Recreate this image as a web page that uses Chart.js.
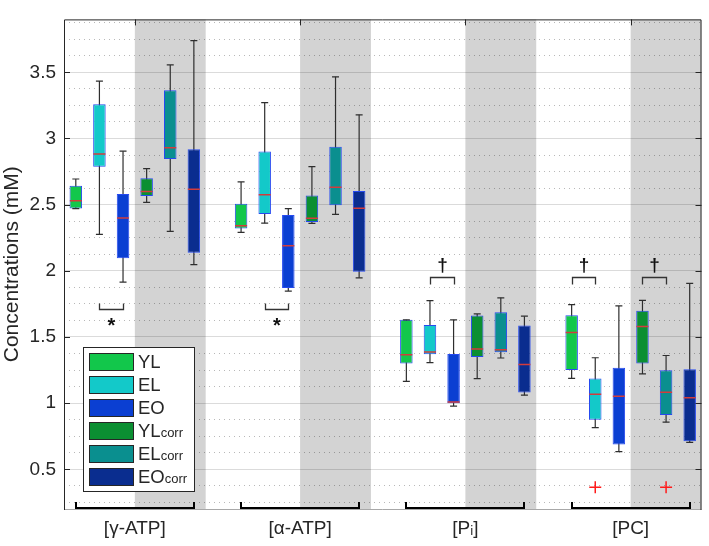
<!DOCTYPE html>
<html>
<head>
<meta charset="utf-8">
<script src="https://cdn.jsdelivr.net/npm/chart.js@4/dist/chart.umd.min.js"></script>
<style>
html,body{margin:0;padding:0;background:#fff;}
#wrap{width:709px;height:546px;position:relative;}
</style>
</head>
<body>
<div id="wrap"><canvas id="c" width="709" height="546"></canvas></div>
<script>
// ---------- data ----------
const groupLabels = ['[γ-ATP]', '[α-ATP]', '[Pᵢ]', '[PC]'];
const seriesNames = ['YL', 'EL', 'EO', 'YLcorr', 'ELcorr', 'EOcorr'];
const yTickValues = [0.5, 1, 1.5, 2, 2.5, 3, 3.5];
// rows = series (YL, EL, EO, YLcorr, ELcorr, EOcorr); columns = groups (γ-ATP, α-ATP, Pi, PC)
const whiskerLow = [
  [2.47, 2.29, 1.165, 1.187],
  [2.276, 2.36, 1.306, 0.815],
  [1.915, 1.847, 0.978, 0.634],
  [2.517, 2.358, 1.185, 1.221],
  [2.298, 2.426, 1.341, 0.856],
  [2.047, 1.947, 1.06, 0.703]
];
const quartile1 = [
  [2.47, 2.32, 1.30, 1.25],
  [2.787, 2.429, 1.37, 0.875],
  [2.095, 1.871, 1.0, 0.688],
  [2.565, 2.368, 1.348, 1.30],
  [2.845, 2.495, 1.385, 0.91],
  [2.137, 1.993, 1.08, 0.712]
];
const medians = [
  [2.53, 2.34, 1.365, 1.533],
  [2.882, 2.575, 1.387, 1.068],
  [2.40, 2.19, 1.009, 1.053],
  [2.60, 2.397, 1.409, 1.579],
  [2.93, 2.631, 1.404, 1.082],
  [2.616, 2.473, 1.292, 1.041]
];
const quartile3 = [
  [2.643, 2.507, 1.63, 1.664],
  [3.259, 2.901, 1.591, 1.187],
  [2.58, 2.422, 1.372, 1.268],
  [2.70, 2.57, 1.662, 1.699],
  [3.364, 2.938, 1.686, 1.248],
  [2.919, 2.604, 1.586, 1.257]
];
const whiskerHigh = [
  [2.694, 2.672, 1.63, 1.745],
  [3.434, 3.271, 1.774, 1.343],
  [2.904, 2.47, 1.63, 1.735],
  [2.772, 2.787, 1.674, 1.776],
  [3.556, 3.466, 1.796, 1.36],
  [3.739, 3.179, 1.657, 1.905]
];
// outliers per series: [groupIndex, value]
const outliers = [[], [[3, 0.364]], [], [], [[3, 0.364]], []];
// significance marks: [groupIndex, seriesA, seriesB, symbol]
const sigMarks = [
  [0, 1, 2, '*'],
  [1, 1, 2, '*'],
  [2, 1, 2, '†'],
  [3, 0, 1, '†'],
  [3, 3, 4, '†']
];

// ---------- styles ----------
const seriesColors = ['#12c74b', '#13c9c9', '#0b3fd2', '#0b8f32', '#0a8f8f', '#0a2d8f'];
const boxEdge = '#2649f0';
const whiskerColor = '#2e2e2e';
const medianColor = '#d23c3c';
const textColor = '#262626';
const FONT = "'Liberation Sans', Arial, Helvetica, sans-serif";
const stride = 7;              // slots per group (6 boxes + gap)
const pos = (g, s) => g * stride + s;
const yMin = 0.2, yMax = 3.9;

// ---------- datasets ----------
const datasets = [];
seriesNames.forEach((name, s) => {
  const xs = groupLabels.map((_, g) => pos(g, s));
  datasets.push({
    type: 'bar', label: name + ' whisker',
    data: xs.map((xv, g) => ({x: xv, y: [whiskerLow[s][g], whiskerHigh[s][g]]})),
    backgroundColor: whiskerColor, borderWidth: 0, barThickness: 1.2, inflateAmount: 0,
    grouped: false, order: 30, xAxisID: 'x', yAxisID: 'y'
  });
  datasets.push({
    type: 'bar', label: name,
    data: xs.map((xv, g) => ({x: xv, y: [quartile1[s][g], quartile3[s][g]]})),
    backgroundColor: seriesColors[s], borderColor: boxEdge, borderWidth: 1,
    borderSkipped: false, barThickness: 12.5, inflateAmount: 0,
    grouped: false, order: 20, xAxisID: 'x', yAxisID: 'y'
  });
  datasets.push({
    type: 'line', label: name + ' caps',
    data: xs.flatMap((xv, g) => [{x: xv, y: whiskerLow[s][g]}, {x: xv, y: whiskerHigh[s][g]}]),
    showLine: false, pointStyle: 'line', pointRadius: 3.5, pointBorderColor: whiskerColor,
    pointBorderWidth: 1.2, order: 10, xAxisID: 'x', yAxisID: 'y'
  });
  datasets.push({
    type: 'line', label: name + ' median',
    data: xs.map((xv, g) => ({x: xv, y: medians[s][g]})),
    showLine: false, pointStyle: 'line', pointRadius: 6, pointBorderColor: medianColor,
    pointBorderWidth: 1.5, order: 5, xAxisID: 'x', yAxisID: 'y'
  });
  if (outliers[s].length) {
    datasets.push({
      type: 'line', label: name + ' outliers',
      data: outliers[s].map(([g, v]) => ({x: pos(g, s), y: v})),
      showLine: false, pointStyle: 'cross', pointRadius: 6, pointBorderColor: '#ff1a1a',
      pointBorderWidth: 1.5, order: 4, xAxisID: 'x', yAxisID: 'y'
    });
  }
});

// ---------- decoration plugin ----------
const decor = {
  id: 'decor',
  beforeDraw(chart) {
    const {ctx, chartArea: a, scales: {x}} = chart;
    ctx.save();
    ctx.fillStyle = '#d3d3d3';
    groupLabels.forEach((_, g) => {
      const x0 = x.getPixelForValue(pos(g, 2.5));
      const x1 = x.getPixelForValue(pos(g, 5.5));
      ctx.fillRect(x0, a.top, x1 - x0, a.bottom - a.top);
    });
    ctx.restore();
  },
  afterDraw(chart) {
    const {ctx, chartArea: a, scales: {x, y}} = chart;
    ctx.save();
    // frame
    ctx.lineWidth = 1;
    ctx.strokeStyle = '#a8a8a8';
    ctx.beginPath();
    ctx.moveTo(a.left, a.bottom + 0.5); ctx.lineTo(a.right, a.bottom + 0.5);
    ctx.stroke();
    ctx.strokeStyle = textColor;
    ctx.beginPath();
    ctx.moveTo(a.left + 0.5, a.bottom + 1); ctx.lineTo(a.left + 0.5, a.top + 0.5);
    ctx.lineTo(a.right - 0.5, a.top + 0.5); ctx.lineTo(a.right - 0.5, a.bottom + 1);
    // inward ticks
    yTickValues.forEach(v => {
      const py = Math.round(y.getPixelForValue(v)) + 0.5;
      ctx.moveTo(a.left, py); ctx.lineTo(a.left + 6, py);
      ctx.moveTo(a.right, py); ctx.lineTo(a.right - 6, py);
    });
    groupLabels.forEach((_, g) => {
      const px = Math.round(x.getPixelForValue(pos(g, 2.5))) + 0.5;
      ctx.moveTo(px, a.top); ctx.lineTo(px, a.top + 6);
    });
    ctx.stroke();

    // group brackets at the bottom
    ctx.strokeStyle = '#000';
    ctx.lineWidth = 2;
    groupLabels.forEach((_, g) => {
      const xa = Math.round(x.getPixelForValue(pos(g, 0)));
      const xb = Math.round(x.getPixelForValue(pos(g, 5)));
      const yb = a.bottom - 1;
      ctx.beginPath();
      ctx.moveTo(xa, yb - 6); ctx.lineTo(xa, yb); ctx.lineTo(xb, yb); ctx.lineTo(xb, yb - 6);
      ctx.stroke();
    });

    // significance brackets
    ctx.strokeStyle = '#333';
    ctx.lineWidth = 1.3;
    ctx.fillStyle = '#111';
    ctx.textAlign = 'center';
    sigMarks.forEach(([g, sa, sb, sym]) => {
      const xa = Math.round(x.getPixelForValue(pos(g, sa))) + 0.5;
      const xb = Math.round(x.getPixelForValue(pos(g, sb))) + 0.5;
      const xm = (xa + xb) / 2;
      ctx.beginPath();
      if (sym === '*') {
        const ly = Math.round(y.getPixelForValue(1.708)) + 0.5;
        ctx.moveTo(xa, ly - 6); ctx.lineTo(xa, ly); ctx.lineTo(xb, ly); ctx.lineTo(xb, ly - 6);
        ctx.stroke();
        ctx.font = 'bold 20px ' + FONT;
        ctx.textBaseline = 'alphabetic';
        ctx.fillText('*', xm, ly + 11 + 11);
      } else {
        const ly = Math.round(y.getPixelForValue(1.956)) + 0.5;
        ctx.moveTo(xa, ly + 7); ctx.lineTo(xa, ly); ctx.lineTo(xb, ly); ctx.lineTo(xb, ly + 7);
        ctx.stroke();
        ctx.font = 'bold 19px ' + FONT;
        ctx.textBaseline = 'alphabetic';
        ctx.fillText('†', xm, ly - 13 + 6);
      }
    });

    // legend
    const lx = a.left + 19, ly = a.bottom - 162, lw = 111, lh = 144;
    ctx.fillStyle = '#fff';
    ctx.fillRect(lx, ly, lw, lh);
    ctx.strokeStyle = textColor;
    ctx.lineWidth = 1;
    ctx.strokeRect(lx + 0.5, ly + 0.5, lw, lh);
    seriesNames.forEach((name, i) => {
      const cy = ly + 14 + i * 23;
      ctx.fillStyle = seriesColors[i];
      ctx.fillRect(lx + 6, Math.round(cy - 8.5), 44, 17);
      ctx.strokeStyle = textColor;
      ctx.strokeRect(lx + 6.5, Math.round(cy - 8.5) + 0.5, 44, 17);
      ctx.fillStyle = textColor;
      ctx.textAlign = 'left';
      ctx.textBaseline = 'alphabetic';
      const main = name.endsWith('corr') ? name.slice(0, -4) : name;
      ctx.font = '18.5px ' + FONT;
      ctx.fillText(main, lx + 55, cy + 7);
      if (main !== name) {
        const w = ctx.measureText(main).width;
        ctx.font = '13px ' + FONT;
        ctx.fillText('corr', lx + 55 + w, cy + 7);
      }
    });
    ctx.restore();
  }
};

// ---------- chart ----------
new Chart(document.getElementById('c'), {
  type: 'bar',
  data: {datasets},
  plugins: [decor],
  options: {
    responsive: false,
    animation: false,
    events: [],
    layout: {padding: {left: 0, right: 2, top: 3, bottom: 0}},
    plugins: {legend: {display: false}, tooltip: {enabled: false}},
    scales: {
      x: {
        type: 'linear', min: -0.5, max: 26.5, offset: false,
        grid: {display: false, offset: false, drawTicks: false},
        border: {display: false},
        afterBuildTicks: (axis) => { axis.ticks = groupLabels.map((_, g) => ({value: pos(g, 2.5)})); },
        afterFit: (axis) => { axis.height = 37; },
        ticks: {
          autoSkip: false, maxRotation: 0, minRotation: 0, padding: 8,
          color: textColor, font: {family: FONT, size: 19},
          callback: (v) => groupLabels[Math.round((v - 2.5) / stride)]
        }
      },
      y: {
        type: 'linear', position: 'left', min: yMin, max: yMax,
        grid: {color: 'rgba(0,0,0,0.14)', lineWidth: 1, drawTicks: false},
        border: {display: false},
        afterBuildTicks: (axis) => { axis.ticks = yTickValues.map(v => ({value: v})); },
        afterFit: (axis) => { axis.width = 64; },
        ticks: {padding: 8, color: textColor, font: {family: FONT, size: 19}, callback: (v) => String(v)},
        title: {display: true, text: 'Concentrations (mM)', color: textColor,
                font: {family: FONT, size: 21, lineHeight: 1.2}, padding: {top: 0, bottom: 0}}
      },
      y2: {
        type: 'linear', position: 'right', min: yMin, max: yMax,
        grid: {color: 'rgba(0,0,0,0.28)', lineWidth: 1, drawTicks: false},
        border: {display: false, dash: [1, 4]},
        afterBuildTicks: (axis) => {
          const t = [];
          for (let k = Math.ceil(yMin / 0.125); k * 0.125 < yMax; k++) {
            if (k % 4 !== 0) t.push({value: k * 0.125});
          }
          axis.ticks = t;
        },
        afterFit: (axis) => { axis.width = 0; },
        ticks: {display: false}
      }
    }
  }
});
</script>
</body>
</html>
